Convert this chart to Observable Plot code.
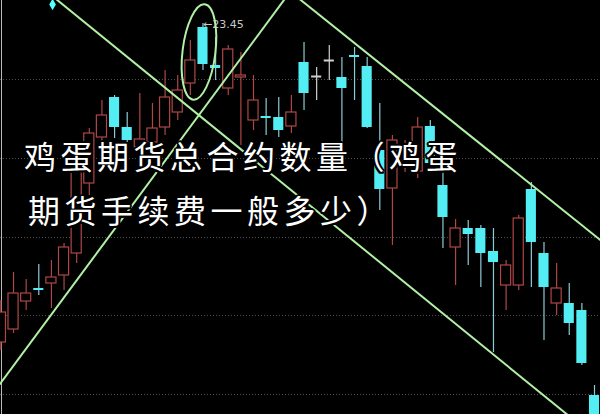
<!DOCTYPE html>
<html>
<head>
<meta charset="utf-8">
<script src="https://cdn.jsdelivr.net/npm/d3@7"></script>
<script src="https://cdn.jsdelivr.net/npm/@observablehq/plot@0.6"></script>
<style>
html, body { margin: 0; padding: 0; background: #000; }
#wrap { position: relative; width: 600px; height: 414px; overflow: hidden; background: #000; }
#chart svg { display: block; }
.tl { position: absolute; white-space: nowrap; font-family: "Noto Sans CJK SC", sans-serif; font-size: 32px; line-height: 32px; letter-spacing: 4.5px; color: #fff;
  text-shadow: 2px 0 0 #000, -2px 0 0 #000, 0 2px 0 #000, 0 -2px 0 #000, 1.5px 1.5px 0 #000, -1.5px -1.5px 0 #000, 1.5px -1.5px 0 #000, -1.5px 1.5px 0 #000; }
</style>
</head>
<body>
<div id="wrap"><div id="chart"></div></div>
<script>
// ---- data ----
const opens  = [20.26,20.39,20.67,20.80,20.85,20.93,21.15,21.85,22.31,22.71,22.41,22.21,22.26,22.41,22.56,22.85,23.41,23.03,22.80,22.91,22.48,22.52,22.51,22.42,23.06,22.92,23.08,22.91,23.13,23.02,22.18,21.80,22.08,21.97,22.42,21.83,21.21,21.40,21.40,21.17,20.83,20.83,21.79,21.15,20.65,20.65,20.58,19.73];
const highs  = [20.68,20.96,20.89,21.04,21.08,21.25,22.10,22.40,22.68,22.73,22.56,22.75,22.65,22.98,22.93,23.28,23.45,23.31,23.23,23.16,22.93,22.70,22.71,22.73,23.26,23.01,23.23,23.11,23.21,23.11,22.65,22.33,22.28,22.51,22.48,22.05,21.49,21.48,21.43,21.40,21.08,21.53,21.86,21.26,21.05,20.85,20.65,19.83];
const lows   = [20.18,20.35,20.58,20.73,20.60,20.78,21.05,21.73,22.23,22.30,22.26,22.18,22.18,22.33,22.48,22.73,22.98,22.88,22.73,22.23,22.38,22.33,22.31,22.35,22.58,22.68,22.88,22.23,22.68,22.40,21.58,21.23,21.96,21.90,22.00,21.20,20.83,21.03,20.81,20.16,20.58,20.78,20.81,20.28,20.53,20.33,20.03,19.40];
const closes = [20.56,20.75,20.75,20.78,20.91,21.21,22.05,22.35,22.53,22.41,22.28,22.29,22.40,22.71,22.78,23.08,23.04,23.00,23.19,22.93,22.68,22.50,22.38,22.56,22.75,22.92,23.08,22.80,23.11,22.41,21.79,22.28,22.18,22.41,22.05,21.51,21.40,21.34,21.15,21.06,21.03,21.50,21.26,20.81,20.80,20.45,20.05,19.48];
const gridLevels = [22.89, 22.10, 21.31, 20.53, 19.74];
// trend lines in (bar index, price)
const trendLines = [
  {x1: 2.46, y1: 23.89, x2: 46.88, y2: 19.33},
  {x1: -0.1, y1: 19.84, x2: 23.5, y2: 23.87},
  {x1: 22.8, y1: 23.78, x2: 48.3, y2: 21.20}
];
const markers = [{i: 4.09, price: 23.64}];
const highlight = {i: 15.72, price: 23.16, ri: 1.3, rp: 0.48, angle: 7};
const titleLines = ["鸡蛋期货总合约数量（鸡蛋", "期货手续费一般多少）"];

const candles = opens.map((o, i) => ({i, open: o, high: highs[i], low: lows[i], close: closes[i]}));
const up = candles.filter(d => d.close > d.open);
const down = candles.filter(d => d.close < d.open);
const flat = candles.filter(d => d.close === d.open);
const peak = candles.reduce((a, b) => (b.high > a.high ? b : a));

const RED = "#b04646", CYAN = "#52eef4", CYAN_W = "#8ccbd8", GREEN = "#b2f0a6";
const hw = 0.4;

const plot = Plot.plot({
  width: 600, height: 414,
  marginTop: 0, marginBottom: 0, marginLeft: 0, marginRight: 0,
  style: {background: "#000"},
  x: {domain: [-0.032, 47.474], axis: null},
  y: {domain: [19.54, 23.68], axis: null},
  marks: [
    Plot.ruleY(gridLevels, {stroke: "#505050", strokeDasharray: "1,2", strokeWidth: 1}),
    Plot.ruleX([-0.032], {stroke: "#bbbbbb", dx: 1}),
    Plot.ruleX(up, {x: "i", y1: "low", y2: "high", stroke: RED, strokeWidth: 1.2}),
    Plot.ruleX(down, {x: "i", y1: "low", y2: "high", stroke: CYAN_W, strokeWidth: 1.2}),
    Plot.ruleX(flat, {x: "i", y1: "low", y2: "high", stroke: "#d0d0d0", strokeWidth: 1.2}),
    Plot.rect(up, {x1: d => d.i - hw, x2: d => d.i + hw, y1: "open", y2: "close", fill: "#000", stroke: RED, strokeWidth: 1.2}),
    Plot.rect(down, {x1: d => d.i - hw, x2: d => d.i + hw, y1: "open", y2: "close", fill: CYAN}),
    Plot.ruleY(flat, {x1: d => d.i - hw, x2: d => d.i + hw, y: "close", stroke: "#d0d0d0", strokeWidth: 2}),
    Plot.link(trendLines, {x1: "x1", y1: "y1", x2: "x2", y2: "y2", stroke: GREEN, strokeWidth: 2, clip: true}),
    Plot.dot(markers, {x: "i", y: "price", symbol: "diamond", fill: "#5ff", r: 3.5}),
    Plot.text([peak], {x: "i", y: "high", text: d => "←" + d.high.toFixed(2), textAnchor: "start", fill: "#c8c8c8", fontSize: 11, dy: 1, fontFamily: "DejaVu Sans"})
  ]
});

// highlight ellipse drawn in scale coordinates
const xs = plot.scale("x"), ys = plot.scale("y");
const cx = xs.apply(highlight.i), cy = ys.apply(highlight.price);
const rx = xs.apply(highlight.i + highlight.ri) - cx;
const ry = ys.apply(highlight.price - highlight.rp) - cy;
d3.select(plot).append("ellipse")
  .attr("cx", cx).attr("cy", cy).attr("rx", rx).attr("ry", ry)
  .attr("transform", `rotate(${highlight.angle},${cx},${cy})`)
  .attr("fill", "none").attr("stroke", GREEN).attr("stroke-width", 2);

document.getElementById("chart").appendChild(plot);

// overlaid title
const wrap = document.getElementById("wrap");
const pos = [{left: 24, top: 139}, {left: 28, top: 193}];
titleLines.forEach((t, k) => {
  const div = document.createElement("div");
  div.className = "tl";
  div.textContent = t;
  div.style.left = pos[k].left + "px";
  div.style.top = pos[k].top + "px";
  wrap.appendChild(div);
});
</script>
</body>
</html>
